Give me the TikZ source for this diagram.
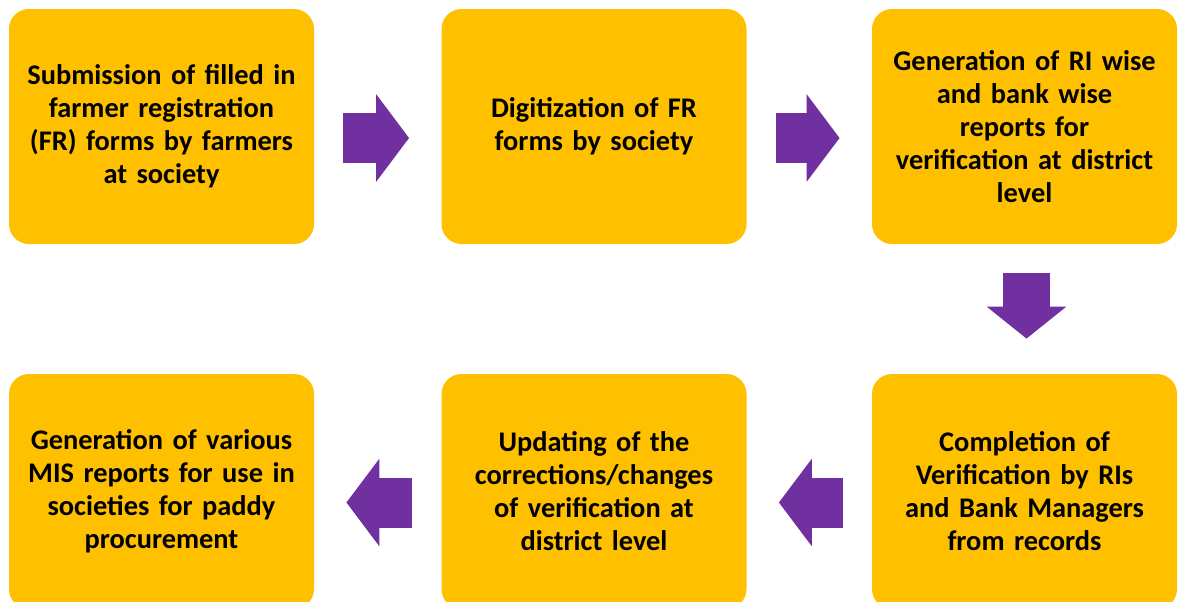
\documentclass[tikz,border=0pt]{standalone}
\usepackage{fontspec}
\setmainfont{Carlito}
\usetikzlibrary{positioning,calc,arrows.meta}
\definecolor{boxgold}{HTML}{FFC000}
\definecolor{flowpurple}{HTML}{7030A0}
\tikzset{font=\fontsize{14.2}{16.5}\selectfont\bfseries}

\begin{document}
\begin{tikzpicture}[x=0.5pt, y=-0.5pt]
	\clip (0, 0) rectangle (1184, 601);
	\begin{scope}
		\tikzstyle{every node}=[align=center, inner sep=1pt]
		\tikzstyle{stage}=[fill=boxgold, rounded corners=10pt, minimum width=152.5pt, minimum height=117.5pt, text width=148pt]
		\tikzstyle{flow}=[draw=flowpurple, flowpurple, line width=25pt, -{Triangle[length=16.5pt, width=43pt]}, shorten <=14.5pt, shorten >=16pt]

		\node[stage] (sub) at (161.5, 126.5) {Submission of filled in\\farmer registration\\(FR) forms by farmers\\at society};
		\node[stage] (dig) at (594, 126.5) {Digitization of FR\\forms by society};
		\node[stage] (gen) at (1024.5, 126.5) {Generation of RI wise\\and bank wise\\reports for\\verification at district\\level};

		\node[stage] (mis) at (161.5, 491.5) {Generation of various\\MIS reports for use in\\societies for paddy\\procurement};
		\node[stage] (upd) at (594, 491.5) {Updating of the\\corrections/changes\\of verification at\\district level};
		\node[stage] (ver) at (1024.5, 491.5) {Completion of\\Verification by RIs\\and Bank Managers\\from records};

		\draw [flow] ([yshift=-5.75pt]sub.east) to ([yshift=-5.75pt]dig.west);
		\draw [flow] ([yshift=-5.75pt]dig.east) to ([yshift=-5.75pt]gen.west);
		\draw [flow, line width=23.5pt, -{Triangle[length=16pt, width=39pt]}, shorten >=17.5pt] ([xshift=1pt]gen.south) to ([xshift=1pt]ver.north);
		\draw [flow] ([yshift=-5.5pt]ver.west) to ([yshift=-5.5pt]upd.east);
		\draw [flow] ([yshift=-5.5pt]upd.west) to ([yshift=-5.5pt]mis.east);
	\end{scope}
\end{tikzpicture}
\end{document}
